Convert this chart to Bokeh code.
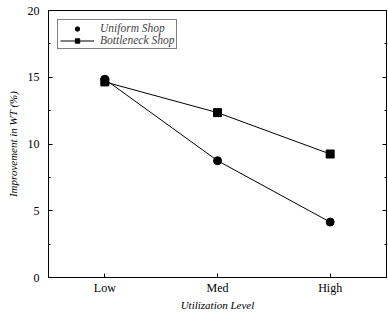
from bokeh.plotting import figure
from bokeh.models import FactorRange, Range1d, SingleIntervalTicker, LinearAxis, Legend, LegendItem
from bokeh.embed import file_html
from bokeh.resources import INLINE

levels = ["Low", "Med", "High"]
uniform = [14.85, 8.75, 4.15]
bottleneck = [14.65, 12.35, 9.25]
y_ticks_interval = 5

FONT = "Liberation Serif"

p = figure(width=388, height=314, x_range=FactorRange(*levels, range_padding=0),
           y_range=Range1d(0, 20), output_backend="svg", toolbar_location=None,
           min_border_left=48, min_border_right=2, min_border_top=10, min_border_bottom=37)
p.xgrid.visible = False
p.ygrid.visible = False
p.outline_line_color = "black"
p.outline_line_width = 1

p.yaxis.ticker = SingleIntervalTicker(interval=y_ticks_interval, num_minor_ticks=2)
for ax in (p.xaxis[0], p.yaxis[0]):
    ax.major_tick_in = 4
    ax.major_tick_out = 0
    ax.minor_tick_in = 2
    ax.minor_tick_out = 0
    ax.axis_line_color = "black"
    ax.major_label_text_font = FONT
    ax.major_label_text_font_size = "12px"
    ax.major_label_text_color = "black"
    ax.axis_label_text_font = FONT
    ax.axis_label_text_font_style = "italic"
    ax.axis_label_text_font_size = "11px"
    ax.axis_label_text_color = "black"
p.xaxis.axis_label = "Utilization Level"
p.yaxis.axis_label = "Improvement in WT (%)"
p.xaxis.major_label_standoff = 3
p.xaxis.axis_label_standoff = 1
p.yaxis.major_label_standoff = 9
p.yaxis.axis_label_standoff = 6

right = LinearAxis(ticker=SingleIntervalTicker(interval=y_ticks_interval, num_minor_ticks=2),
                   major_label_overrides={0: "", 5: "", 10: "", 15: "", 20: ""},
                   major_label_standoff=0, major_tick_in=4, major_tick_out=0,
                   minor_tick_in=2, minor_tick_out=0, axis_line_color="black")
p.add_layout(right, "right")

l1 = p.line(levels, uniform, line_color="black", line_width=1)
s1 = p.scatter(levels, uniform, marker="circle", size=8, fill_color="black", line_color="black")
l2 = p.line(levels, bottleneck, line_color="black", line_width=1)
s2 = p.scatter(levels, bottleneck, marker="square", size=8, fill_color="black", line_color="black")

legend = Legend(items=[LegendItem(label="Uniform Shop", renderers=[s1]),
                       LegendItem(label="Bottleneck Shop", renderers=[l2, s2])],
                location="top_left", margin=9, padding=2, spacing=0,
                label_text_font=FONT, label_text_font_style="italic", label_text_font_size="11.5px",
                label_text_line_height=1.0,
                glyph_width=34, glyph_height=11, label_height=11, label_standoff=6,
                border_line_color="black", border_line_width=1, background_fill_alpha=1)
p.add_layout(legend, "center")

open("out.html", "w").write(file_html(p, INLINE))
